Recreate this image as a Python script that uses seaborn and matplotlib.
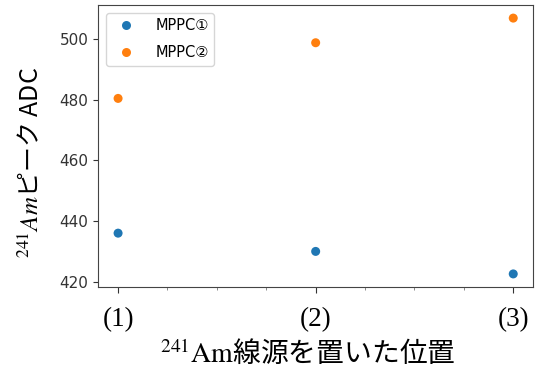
import matplotlib
matplotlib.use("Agg")
import matplotlib.pyplot as plt
from matplotlib.ticker import MultipleLocator
import seaborn as sns
import pandas as pd

# ---- data ----
positions = [1, 2, 3]
position_labels = ["(1)", "(2)", "(3)"]
mppc1_adc = [436.1, 430.1, 422.7]
mppc2_adc = [480.4, 498.7, 506.8]
series_names = ["MPPC①", "MPPC②"]
series_colors = ["#1f77b4", "#ff7f0e"]

df = pd.DataFrame({
    "pos": positions * 2,
    "adc": mppc1_adc + mppc2_adc,
    "series": [series_names[0]] * len(positions) + [series_names[1]] * len(positions),
})

plt.rcParams["mathtext.fontset"] = "stix"

fig = plt.figure(figsize=(5.42, 3.74), dpi=100)
ax = fig.add_axes([0.1814, 0.2334, 0.8020, 0.7524])

sns.scatterplot(data=df, x="pos", y="adc", hue="series", palette=series_colors,
                s=42, linewidth=0, ax=ax)

ax.set_xticks(positions)
ax.set_xticklabels(position_labels, fontfamily="Liberation Serif", fontsize=19.5)
ax.xaxis.set_minor_locator(MultipleLocator(0.25))
ax.set_yticks([420, 440, 460, 480, 500])
ax.tick_params(axis="y", labelsize=11, labelcolor="#333333", length=3.5, color="#333333")
ax.tick_params(axis="x", which="major", length=4, color="#333333", pad=11)
ax.tick_params(axis="x", which="minor", length=2, color="#777777")
for sp in ax.spines.values():
    sp.set_color("#444444")

ax.set_xlabel(r"$^{241}\mathrm{Am}$線源を置いた位置", fontfamily="Noto Sans CJK JP",
              fontsize=20)
ax.xaxis.set_label_coords(0.481, -0.187)
ax.set_ylabel(r"$^{241}Am$ピーク ADC", fontfamily="Noto Sans CJK JP", fontsize=18)
ax.yaxis.set_label_coords(-0.125, 0.44)

handles, labels = ax.get_legend_handles_labels()
ax.legend(handles, labels, loc="upper left",
          prop={"family": ["DejaVu Sans", "Noto Sans CJK JP"], "size": 10.5},
          handletextpad=1.0, labelspacing=0.8)

fig.savefig("out.png", dpi=100)
